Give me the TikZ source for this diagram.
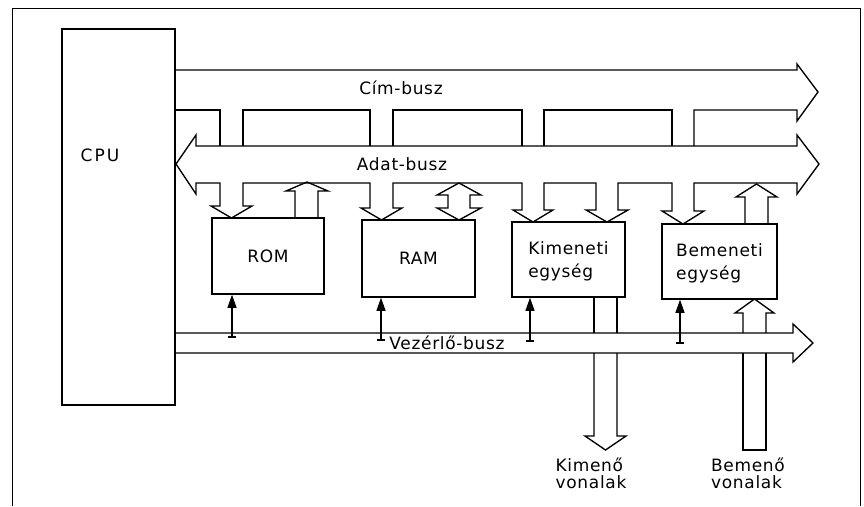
\documentclass[tikz,border=0pt]{standalone}
\usepackage{fontspec}
\newfontfamily\lab[LetterSpace=4]{DejaVu Sans}
\newfontfamily\labw[LetterSpace=12]{DejaVu Sans}
\usetikzlibrary{arrows.meta}
\tikzset{
  frameline/.style={line width=0.9pt},
  busline/.style={line width=1.35pt, line join=miter},
  unit/.style={draw, line width=1.5pt, inner sep=0pt, align=left,
    font=\lab\fontsize{17}{23}\selectfont},
  ctl/.style={line width=1.1pt, -{Triangle[width=9pt,length=13pt]}},
  footline/.style={line width=1.1pt},
  lbl/.style={inner sep=0pt, font=\lab\fontsize{17}{17}\selectfont},
}
\begin{document}
\begin{tikzpicture}[x=1pt,y=-1pt]
\useasboundingbox (0,0) rectangle (864,506);
% frame
\draw[frameline] (12,506) -- (12,8.5) -- (860,8.5) -- (860,506);
% CPU
\node[unit, minimum width=113pt, minimum height=376pt] (cpu) at (118.5,217) {};
\node[lbl] (cputxt) at (100,155) {\labw\fontsize{17}{17}\selectfont CPU};
% units
\node[unit, minimum width=112pt, minimum height=76pt] (rom) at (268,256) {ROM};
\node[unit, minimum width=113pt, minimum height=77pt] (ram) at (418.5,258.5) {RAM};
\node[unit, text depth=0pt, minimum width=113pt, minimum height=75pt] (kim) at (568.5,259.5) {Kimeneti\\egység};
\node[unit, text depth=0pt, minimum width=115pt, minimum height=75pt] (bem) at (719.5,261.5) {Bemeneti\\egység};
% Cim-busz
\draw[busline] (175,70) -- (797,70) -- (797,64) -- (818,92) -- (797,121) -- (797,110)
  -- (694,110) -- (694,146);
\draw[busline] (672,146) -- (672,110) -- (544,110) -- (544,146);
\draw[busline] (522,146) -- (522,110) -- (393,110) -- (393,146);
\draw[busline] (370,146) -- (370,110) -- (243,110) -- (243,146);
\draw[busline] (220,146) -- (220,110) -- (175,110);
% Adat-busz with downward branches
\draw[busline] (196,146) -- (797,146) -- (797,135) -- (819,164) -- (797,194) -- (797,183)
  -- (694,183) -- (694,211) -- (704,211) -- (683,224) -- (662,211) -- (672,211) -- (672,183)
  -- (618,183) -- (618,210) -- (628,210) -- (607,222) -- (586,210) -- (596,210) -- (596,183)
  -- (544,183) -- (544,210) -- (553,210) -- (533,222) -- (513,210) -- (522,210) -- (522,183)
  -- (393,183) -- (393,208) -- (402,208) -- (381.5,220) -- (361,208) -- (370,208) -- (370,183)
  -- (243,183) -- (243,206) -- (252,206) -- (231.5,218) -- (211,206) -- (220,206) -- (220,183)
  -- (196,183) -- (196,194) -- (176,164) -- (196,135) -- cycle;
% upward data arrows
\draw[busline] (295,218) -- (295,191) -- (286,191) -- (307,182) -- (328,191) -- (318,191) -- (318,218);
\draw[busline] (459,183) -- (481,195) -- (470,195) -- (470,208) -- (481,208) -- (459,220)
  -- (437,208) -- (448,208) -- (448,195) -- (437,195) -- cycle;
\draw[busline] (745,224) -- (745,197) -- (736,197) -- (756.5,184) -- (777,197) -- (768,197) -- (768,224);
% Vezerlo-busz
\draw[busline] (175,333) -- (793,333) -- (793,324) -- (813,343) -- (793,362) -- (793,353) -- (175,353);
% Kimeno vonalak channel
\draw[busline] (594,297) -- (594,333);
\draw[busline] (617,297) -- (617,333);
\draw[busline] (594,353) -- (594,436) -- (585,436) -- (605.5,450) -- (626,436) -- (617,436) -- (617,353);
% Bemeno vonalak channel
\draw[busline] (743,333) -- (743,313) -- (735,313) -- (754.5,299) -- (774,313) -- (766,313) -- (766,333);
\draw[busline] (743,353) -- (743,450) -- (766,450) -- (766,353);
% control lines
\coordinate (romc) at (232,337);
\coordinate (ramc) at (381,340);
\coordinate (kimc) at (530,341);
\coordinate (bemc) at (680,343);
\draw[ctl] (romc) -- (romc |- rom.south);
\draw[ctl] (ramc) -- (ramc |- ram.south);
\draw[ctl] (kimc) -- (kimc |- kim.south);
\draw[ctl] (bemc) -- (bemc |- bem.south);
\draw[footline] (romc) ++(-4,0) -- ++(8,0);
\draw[footline] (ramc) ++(-4,0) -- ++(8,0);
\draw[footline] (kimc) ++(-4,0) -- ++(8,0);
\draw[footline] (bemc) ++(-4,0) -- ++(8,0);
% labels
\node[lbl] (cim) at (401,88) {Cím-busz};
\node[lbl] (adat) at (402,164) {Adat-busz};
\node[lbl] (vez) at (447,343) {Vezérlő-busz};
\node[lbl, align=left] (kimv) at (591,473) {Kimenő\\vonalak};
\node[lbl, align=left] (bemv) at (748,473) {Bemenő\\vonalak};
\end{tikzpicture}
\end{document}
